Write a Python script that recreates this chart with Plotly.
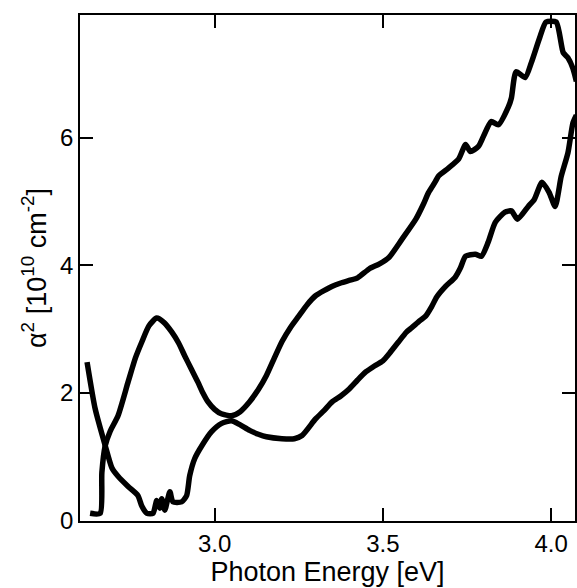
import plotly.graph_objects as go

# Curve A: peak near 2.83 eV, then upper branch
xa = [2.630, 2.660, 2.665, 2.675, 2.690, 2.713, 2.743, 2.765, 2.784, 2.805, 2.828, 2.850, 2.873,
      2.893, 2.911, 2.930, 2.950, 2.965, 2.980, 3.000, 3.020, 3.050, 3.075, 3.104, 3.130, 3.154,
      3.178, 3.200, 3.225, 3.250, 3.275, 3.300, 3.325, 3.350, 3.375, 3.400, 3.425, 3.459, 3.490,
      3.518, 3.556, 3.598, 3.620, 3.636, 3.655, 3.666, 3.695, 3.725, 3.746, 3.760, 3.784, 3.799,
      3.822, 3.843, 3.873, 3.882, 3.896, 3.923, 3.941, 3.967, 3.985, 4.015, 4.036, 4.050, 4.065, 4.075]
ya = [0.11, 0.11, 0.75, 1.17, 1.40, 1.64, 2.17, 2.55, 2.80, 3.05, 3.17, 3.10, 2.95,
      2.78, 2.58, 2.38, 2.17, 2.00, 1.86, 1.74, 1.67, 1.64, 1.70, 1.86, 2.05, 2.27,
      2.55, 2.80, 3.02, 3.20, 3.38, 3.52, 3.60, 3.67, 3.72, 3.76, 3.80, 3.94, 4.02,
      4.12, 4.40, 4.72, 4.95, 5.14, 5.30, 5.40, 5.52, 5.66, 5.89, 5.78, 5.86, 6.02,
      6.25, 6.20, 6.48, 6.62, 7.03, 6.94, 7.17, 7.58, 7.81, 7.81, 7.33, 7.25, 7.08, 6.88]

# Curve B: descending from left, noisy minimum, then lower branch
xb = [2.621, 2.645, 2.675, 2.695, 2.713, 2.743, 2.772, 2.784, 2.799, 2.817, 2.828, 2.837, 2.843,
      2.852, 2.867, 2.876, 2.902, 2.917, 2.926, 2.941, 2.962, 2.991, 3.021, 3.050, 3.075, 3.104,
      3.130, 3.154, 3.200, 3.237, 3.260, 3.300, 3.325, 3.350, 3.375, 3.400, 3.425, 3.450, 3.475,
      3.500, 3.520, 3.547, 3.570, 3.586, 3.610, 3.627, 3.645, 3.660, 3.687, 3.715, 3.730, 3.746,
      3.775, 3.793, 3.813, 3.834, 3.863, 3.882, 3.900, 3.932, 3.950, 3.973, 3.994, 4.012, 4.030,
      4.050, 4.065, 4.075]
yb = [2.48, 1.75, 1.17, 0.82, 0.69, 0.53, 0.39, 0.22, 0.11, 0.11, 0.31, 0.19, 0.34,
      0.16, 0.45, 0.29, 0.29, 0.39, 0.70, 0.97, 1.17, 1.39, 1.52, 1.56, 1.50, 1.41,
      1.35, 1.31, 1.28, 1.28, 1.33, 1.59, 1.72, 1.86, 1.95, 2.06, 2.20, 2.33, 2.42,
      2.50, 2.62, 2.80, 2.95, 3.02, 3.13, 3.20, 3.35, 3.50, 3.67, 3.81, 3.95, 4.14,
      4.17, 4.14, 4.36, 4.67, 4.83, 4.85, 4.72, 4.92, 5.03, 5.30, 5.14, 4.92, 5.39,
      5.76, 6.23, 6.35]

x_ticks = [3.0, 3.5, 4.0]
x_tick_labels = ["3.0", "3.5", "4.0"]
y_ticks = [0, 2, 4, 6]
y_tick_labels = ["0", "2", "4", "6"]

fig = go.Figure()
for xs, ys in [(xa, ya), (xb, yb)]:
    fig.add_trace(go.Scatter(x=xs, y=ys, mode="lines",
                             line=dict(color="black", width=5.5, shape="spline", smoothing=0.6),
                             showlegend=False, hoverinfo="skip"))

fam = "Liberation Sans, Arial, sans-serif"
tick_font = dict(family=fam, size=24, color="black")
title_font = dict(family=fam, size=27, color="black")
axis_common = dict(showgrid=False, zeroline=False, showline=True, linecolor="black",
                   linewidth=1.5, mirror="ticks", ticks="inside", ticklen=13,
                   tickwidth=1.5, tickcolor="black", tickfont=tick_font)

fig.update_layout(
    width=577, height=588,
    margin=dict(l=80, r=0, t=15, b=67),
    paper_bgcolor="white", plot_bgcolor="white",
    font=tick_font,
    xaxis=dict(range=[2.60, 4.071], tickvals=x_ticks, ticktext=x_tick_labels,
               title=dict(text="Photon Energy [eV]", font=title_font, standoff=0),
               **axis_common),
    yaxis=dict(range=[-0.01, 7.92], tickvals=y_ticks, ticktext=y_tick_labels,
               title=dict(text="α<sup>2</sup> [10<sup>10</sup> cm<sup>-2</sup>]", font=title_font, standoff=6),
               **axis_common),
)

fig.write_html("out.html")
